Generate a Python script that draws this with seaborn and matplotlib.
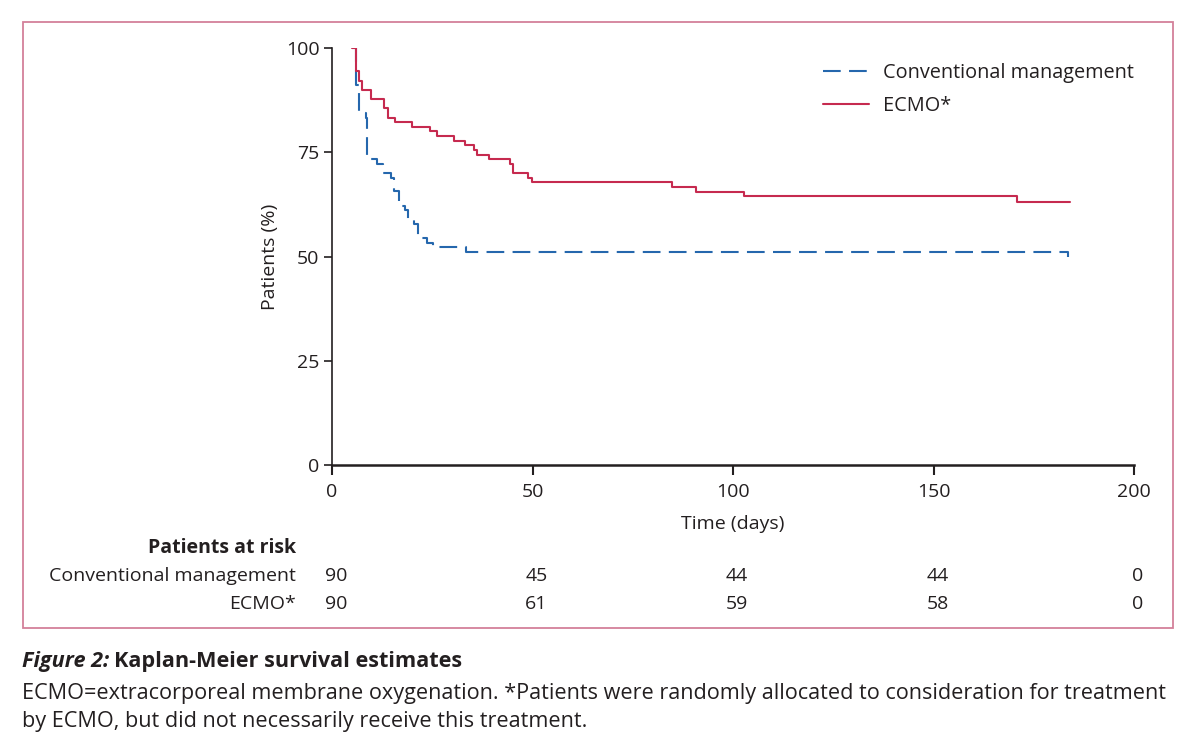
import matplotlib
matplotlib.use("Agg")
import matplotlib.pyplot as plt
import matplotlib.transforms as mtransforms
from matplotlib.patches import Rectangle
import pandas as pd
import seaborn as sns

# Kaplan-Meier steps (day, % surviving)
conv_time = [4.9, 5.9, 6.7, 8.4, 8.8, 11.3, 12.6, 14.6, 15.4, 16.8, 18.3, 19.0, 20.5, 21.5, 23.6, 25.3, 33.4, 183.5]
conv_surv = [100, 91.1, 84.4, 83.3, 73.3, 72.2, 70.0, 68.9, 65.6, 62.2, 61.1, 58.9, 57.8, 54.4, 53.3, 52.2, 51.1, 50.0]

ecmo_time = [4.9, 5.9, 6.7, 7.6, 9.7, 13.0, 13.9, 15.7, 19.9, 24.4, 26.1, 30.3, 33.2, 35.4, 36.2,
             39.2, 44.4, 45.2, 49.0, 49.8, 84.7, 90.8, 102.7, 170.7, 184.0]
ecmo_surv = [100, 94.4, 92.2, 90.0, 87.8, 85.6, 83.3, 82.2, 81.1, 80.0, 78.9, 77.8, 76.7, 75.6, 74.4,
             73.3, 72.2, 70.0, 68.9, 67.8, 66.6, 65.5, 64.4, 63.1, 63.1]

groups = ["Conventional management", "ECMO*"]
risk_days = [0, 50, 100, 150, 200]
conv_at_risk = [90, 45, 44, 44, 0]
ecmo_at_risk = [90, 61, 59, 58, 0]

caption_line1 = "ECMO=extracorporeal membrane oxygenation. *Patients were randomly allocated to consideration for treatment"
caption_line2 = "by ECMO, but did not necessarily receive this treatment."

df = pd.concat([
    pd.DataFrame({"Time": conv_time, "Survival": conv_surv, "Group": groups[0]}),
    pd.DataFrame({"Time": ecmo_time, "Survival": ecmo_surv, "Group": groups[1]}),
])

sns.set_style("white")
plt.rcParams["font.family"] = ["Open Sans", "DejaVu Sans"]
ink = "#231f20"
blue = "#2567ad"
red = "#c62a4f"
fs = 14
cap_fs = 15.6

fig = plt.figure(figsize=(12, 7.52), dpi=100)
ax = fig.add_axes([332 / 1200, 1 - 465 / 752, (1134 - 332) / 1200, (465 - 48) / 752])

sns.lineplot(data=df, x="Time", y="Survival", hue="Group", style="Group",
             palette={groups[0]: blue, groups[1]: red},
             dashes={groups[0]: (8.5, 4), groups[1]: ""},
             drawstyle="steps-post", estimator=None, sort=False,
             linewidth=1.5, ax=ax)

ax.set_xlim(0, 200)
ax.set_ylim(0, 100)
ax.set_xticks([0, 50, 100, 150, 200])
ax.set_yticks([0, 25, 50, 75, 100])
sns.despine(ax=ax)
ax.spines["left"].set_linewidth(1.2)
ax.spines["bottom"].set_linewidth(1.8)
for s in ("left", "bottom"):
    ax.spines[s].set_color(ink)
ax.tick_params(axis="y", direction="out", length=6, width=1.2, pad=3, labelsize=fs, colors=ink, left=True)
ax.tick_params(axis="x", direction="out", length=7, width=1.5, pad=6, labelsize=fs, colors=ink, bottom=True)
ax.set_xlabel("Time (days)", fontsize=fs, color=ink, labelpad=10)
ax.set_ylabel("Patients (%)", fontsize=fs, color=ink, labelpad=5)

handles, labels = ax.get_legend_handles_labels()
ax.legend(handles, labels, loc="upper right", bbox_to_anchor=(1.022, 1.008), frameon=False,
          fontsize=14.3, handlelength=2.3, handletextpad=0.7, labelspacing=0.7,
          labelcolor=ink)

# patients at risk table
trans = mtransforms.blended_transform_factory(ax.transData, fig.transFigure)
fig.text(296 / 1200, 1 - 548 / 752, "Patients at risk", ha="right", va="center",
         fontsize=fs, fontweight="bold", color=ink)
for lab, vals, ypx in [(groups[0], conv_at_risk, 576), (groups[1], ecmo_at_risk, 604)]:
    fig.text(296 / 1200, 1 - ypx / 752, lab, ha="right", va="center", fontsize=fs, color=ink)
    for d, v in zip(risk_days, vals):
        ax.text(d + 1, 1 - ypx / 752, str(v), transform=trans, ha="center", va="center",
                fontsize=fs, color=ink, clip_on=False)

# pink frame
fig.patches.append(Rectangle((23 / 1200, 1 - 628 / 752), (1173 - 23) / 1200, (628 - 22) / 752,
                             transform=fig.transFigure, fill=False, edgecolor="#d3809a", linewidth=1.3))

# caption
t1 = fig.text(22 / 1200, 1 - 662 / 752, "Figure 2:", ha="left", va="center", fontsize=cap_fs,
              fontweight="bold", fontstyle="italic", color=ink)
fig.canvas.draw()
bb = t1.get_window_extent().transformed(fig.transFigure.inverted())
fig.text(bb.x1 + 0.004, 1 - 662 / 752, "Kaplan-Meier survival estimates", ha="left", va="center",
         fontsize=cap_fs, fontweight="bold", color=ink)
fig.text(22 / 1200, 1 - 693 / 752, caption_line1, ha="left", va="center", fontsize=cap_fs, color=ink)
fig.text(22 / 1200, 1 - 722 / 752, caption_line2, ha="left", va="center", fontsize=cap_fs, color=ink)

fig.savefig("out.png", dpi=100)
